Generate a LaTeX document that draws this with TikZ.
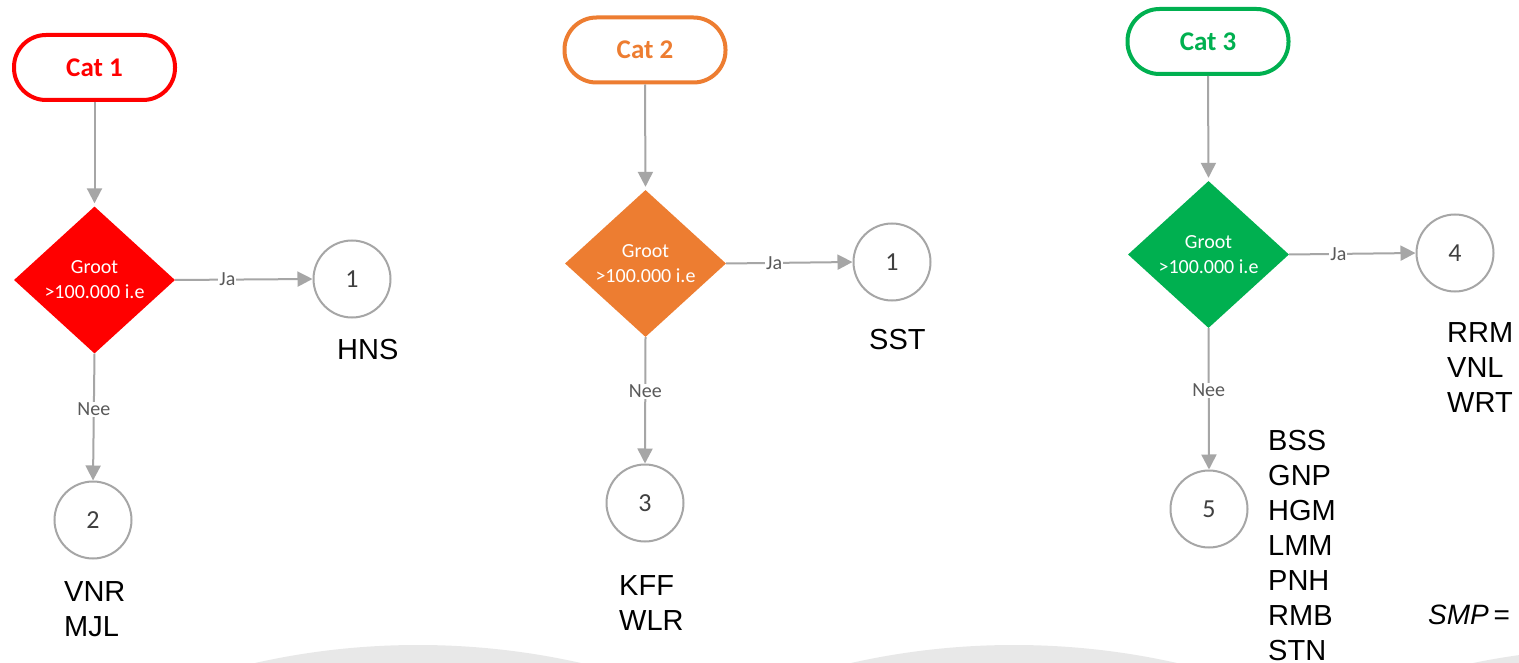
\documentclass[tikz,border=0pt]{standalone}
\usepackage{fontspec}
\setmainfont{Liberation Sans}
\newfontfamily\calfont{Carlito}
\usetikzlibrary{shapes.geometric,arrows.meta}
\definecolor{cred}{HTML}{FF0000}
\definecolor{corange}{HTML}{ED7D31}
\definecolor{cgreen}{HTML}{00B050}
\definecolor{lgray}{HTML}{A6A6A6}
\definecolor{dgray}{HTML}{404040}
\definecolor{mgray}{HTML}{595959}
\definecolor{bggray}{HTML}{E8E8E8}
\begin{document}
\begin{tikzpicture}[x=1pt,y=-1pt,
 catbox/.style={draw=#1, line width=4pt, rounded corners=32pt, minimum width=161pt, minimum height=65pt, text=#1, font=\calfont\bfseries\fontsize{27}{30}\selectfont, inner sep=0pt},
 decision/.style={diamond, fill=#1, minimum width=161pt, minimum height=147pt, inner sep=0pt, text=white, align=center, font=\calfont\fontsize{20}{25}\selectfont},
 endpt/.style={circle, draw=lgray, line width=2pt, minimum size=77pt, inner sep=0pt, text=dgray, font=\calfont\fontsize{26}{30}\selectfont},
 arr/.style={draw=lgray, line width=2pt, -{Triangle[width=15pt,length=15pt]}},
 lbl/.style={fill=white, inner sep=1pt, text=mgray, font=\calfont\fontsize{20}{24}\selectfont},
 listtext/.style={anchor=north west, inner sep=0pt, align=left, font=\fontsize{29}{35}\selectfont}
]
\useasboundingbox (0,0) rectangle (1519,663);
\fill[white] (0,0) rectangle (1519,663);
\begin{scope}
\clip (0,0) rectangle (1519,663);
\fill[bggray] (418,1385) circle (740);
\fill[bggray] (1014,1385) circle (740);
\fill[bggray] (1622,1388) circle (740);
\end{scope}

% Column 1
\node[catbox=cred] (c1) at (94.5,67.5) {Cat 1};
\node[decision=cred] (d1) at (94.5,280) {Groot\\>100.000 i.e};
\node[endpt] (e1) at (352,279) {1};
\node[endpt] (e2) at (93,520) {2};
\draw[arr, shorten >=3pt] (c1.south) -- (d1.north);
\draw[arr] (d1.east) -- node[lbl, pos=0.38] {Ja} (e1.west);
\draw[arr] (d1.south) -- node[lbl, pos=0.44] {Nee} (e2.north);
\node[listtext] (t1) at (337,339) {HNS};
\node[listtext] (t2) at (64,581) {VNR\\MJL};

% Column 2
\node[catbox=corange] (c2) at (645,50) {Cat 2};
\node[decision=corange] (d2) at (645.5,263.5) {Groot\\>100.000 i.e};
\node[endpt] (e3) at (892,262) {1};
\node[endpt] (e4) at (645,503) {3};
\draw[arr, shorten >=3pt] (c2.south) -- (d2.north);
\draw[arr] (d2.east) -- node[lbl, pos=0.38] {Ja} (e3.west);
\draw[arr] (d2.south) -- node[lbl, pos=0.43] {Nee} (e4.north);
\node[listtext] (t3) at (869,329) {SST};
\node[listtext] (t4) at (619,575) {KFF\\WLR};

% Column 3
\node[catbox=cgreen] (c3) at (1208,41.5) {Cat 3};
\node[decision=cgreen] (d3) at (1208.5,254.5) {Groot\\>100.000 i.e};
\node[endpt] (e5) at (1455,253) {4};
\node[endpt] (e6) at (1209,509) {5};
\draw[arr, shorten >=3pt] (c3.south) -- (d3.north);
\draw[arr] (d3.east) -- node[lbl, pos=0.39] {Ja} (e5.west);
\draw[arr] (d3.south) -- node[lbl, pos=0.44] {Nee} (e6.north);
\node[listtext] (t5) at (1447,322) {RRM\\VNL\\WRT};
\node[listtext] (t6) at (1268,430) {BSS\\GNP\\HGM\\LMM\\PNH\\RMB\\STN};
\node[anchor=north west, inner sep=0pt, font=\fontsize{28}{34}\selectfont] (smp) at (1428,605) {\textit{SMP}\,=};
\end{tikzpicture}
\end{document}
